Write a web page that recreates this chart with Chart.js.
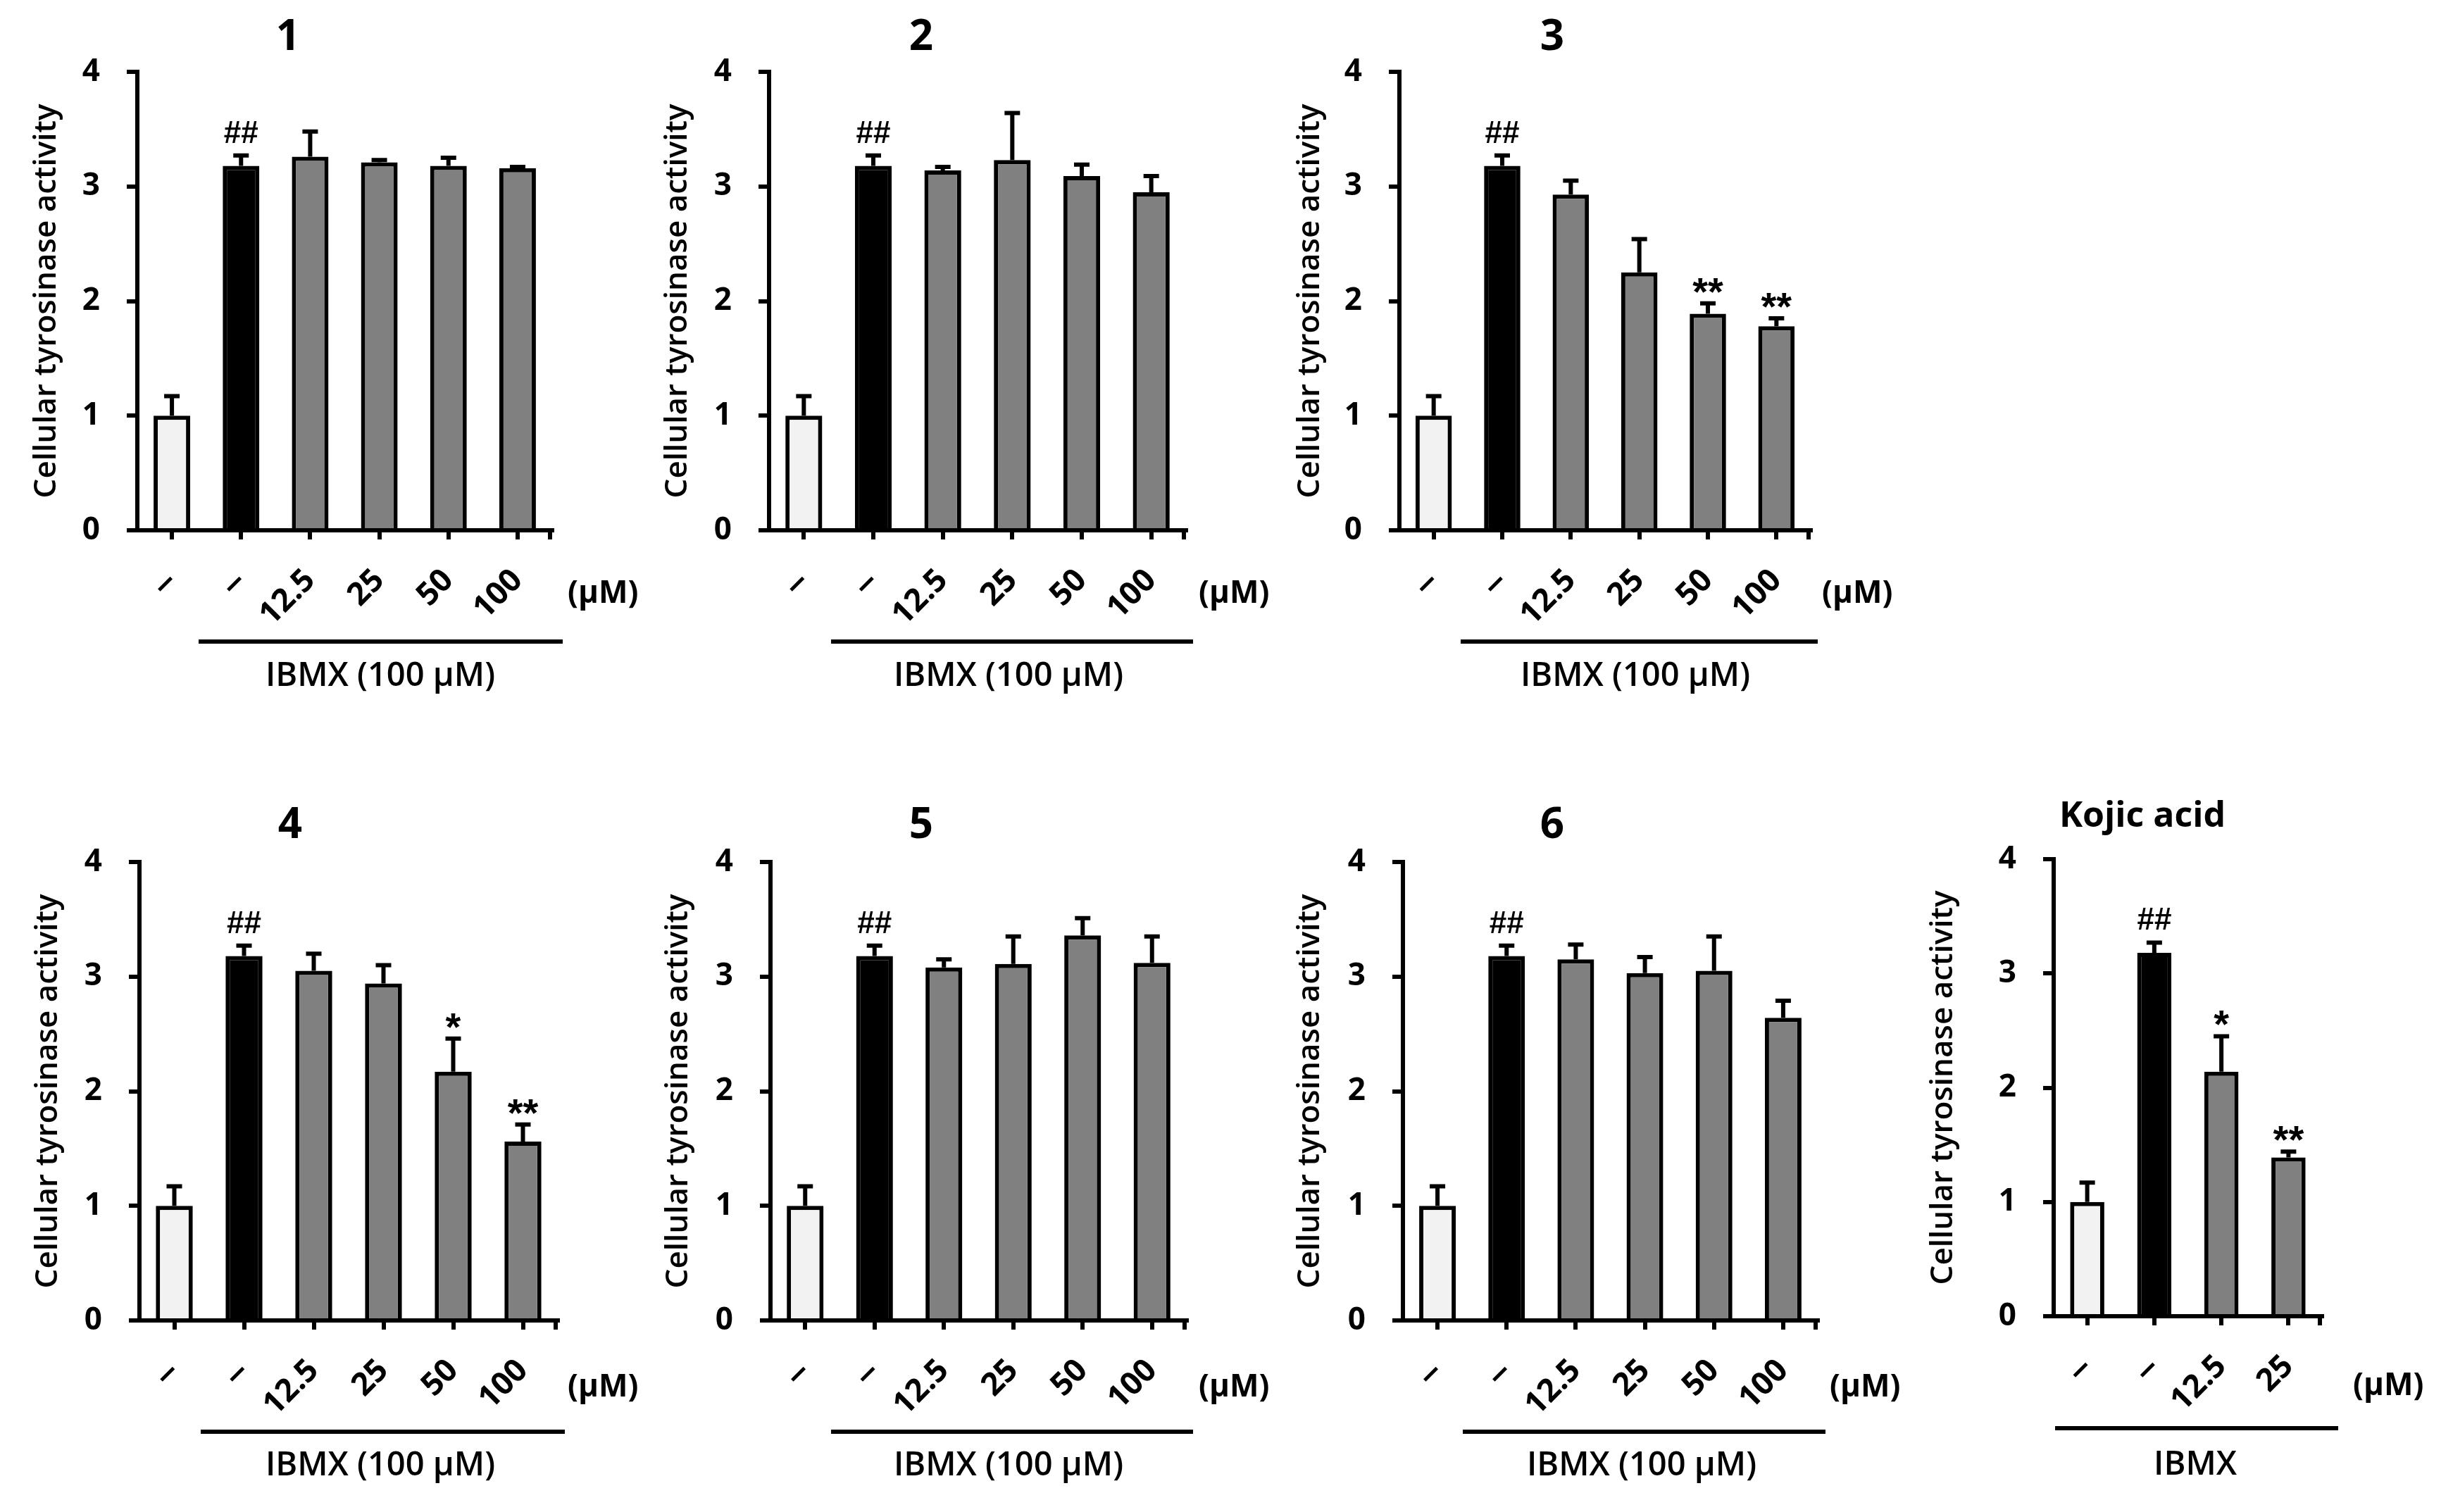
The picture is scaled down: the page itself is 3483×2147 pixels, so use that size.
<!DOCTYPE html>
<html><head><meta charset="utf-8">
<script src="https://cdn.jsdelivr.net/npm/chart.js@4.4.1/dist/chart.umd.min.js"></script>
<style>
html,body{margin:0;padding:0;background:#fff;}
#wrap{position:relative;width:3483px;height:2147px;overflow:hidden;background:#fff;}
canvas{position:absolute;}
</style></head><body><div id="wrap"></div>
<script>
// ---------- data ----------
const doseLabels = ['–', '–', '12.5', '25', '50', '100'];
const kojicLabels = ['–', '–', '12.5', '25'];
const titles = ['1', '2', '3', '4', '5', '6', 'Kojic acid'];
const yTitle = 'Cellular tyrosinase activity';
const yTicks = [0, 1, 2, 3, 4];
const unitLabel = '(µM)';
const groupLabels = ['IBMX (100 µM)', 'IBMX (100 µM)', 'IBMX (100 µM)', 'IBMX (100 µM)', 'IBMX (100 µM)', 'IBMX (100 µM)', 'IBMX'];

const means1 = [1.00, 3.18, 3.26, 3.21, 3.18, 3.16];
const errs1  = [0.17, 0.09, 0.22, 0.02, 0.07, 0.01];
const marks1 = ['', '##', '', '', '', ''];

const means2 = [1.00, 3.18, 3.14, 3.23, 3.09, 2.95];
const errs2  = [0.17, 0.09, 0.03, 0.41, 0.10, 0.14];
const marks2 = ['', '##', '', '', '', ''];

const means3 = [1.00, 3.18, 2.93, 2.25, 1.89, 1.78];
const errs3  = [0.17, 0.09, 0.12, 0.29, 0.09, 0.07];
const marks3 = ['', '##', '', '', '**', '**'];

const means4 = [1.00, 3.18, 3.05, 2.94, 2.17, 1.56];
const errs4  = [0.17, 0.09, 0.15, 0.16, 0.29, 0.15];
const marks4 = ['', '##', '', '', '*', '**'];

const means5 = [1.00, 3.18, 3.08, 3.11, 3.36, 3.12];
const errs5  = [0.17, 0.09, 0.07, 0.24, 0.15, 0.23];
const marks5 = ['', '##', '', '', '', ''];

const means6 = [1.00, 3.18, 3.15, 3.03, 3.05, 2.64];
const errs6  = [0.17, 0.09, 0.13, 0.14, 0.30, 0.15];
const marks6 = ['', '##', '', '', '', ''];

const meansK = [1.00, 3.18, 2.14, 1.39];
const errsK  = [0.17, 0.09, 0.31, 0.05];
const marksK = ['', '##', '*', '**'];

// ---------- layout (page pixels) ----------
const L = [
 {ax:195,  rx:784,  ty:102,  by:753,  tX:409,  tY:54,   yTX:66,   uX:806,  uY:843,  br:[282,799,911],   gX:540,  gY:961,  bp:0.53, tf:60},
 {ax:1092, rx:1684, ty:102,  by:753,  tX:1308, tY:54,   yTX:962,  uX:1702, uY:843,  br:[1180,1694,911], gX:1432, gY:961,  bp:0.53, tf:60},
 {ax:1987, rx:2571, ty:102,  by:753,  tX:2204, tY:54,   yTX:1860, uX:2587, uY:843,  br:[2074,2581,911], gX:2322, gY:961,  bp:0.53, tf:60},
 {ax:198,  rx:792,  ty:1224, by:1875, tX:412,  tY:1173, yTX:68,   uX:806,  uY:1970, br:[285,802,2033],  gX:540,  gY:2082, bp:0.53, tf:60},
 {ax:1094, rx:1685, ty:1224, by:1875, tX:1308, tY:1173, yTX:963,  uX:1702, uY:1970, br:[1180,1694,2033], gX:1432, gY:2082, bp:0.53, tf:60},
 {ax:1992, rx:2581, ty:1224, by:1875, tX:2204, tY:1173, yTX:1860, uX:2598, uY:1970, br:[2077,2592,2033], gX:2331, gY:2082, bp:0.53, tf:60},
 {ax:2916, rx:3297, ty:1220, by:1869, tX:3042, tY:1160, yTX:2759, uX:3341, uY:1968, br:[2918,3320,2028], gX:3117, gY:2081, bp:0.51, tf:50}
];

const FONT = "'Open Sans', 'Noto Sans', sans-serif";
const LW = 6;
const series = [
  {labels: doseLabels, means: means1, errs: errs1, marks: marks1},
  {labels: doseLabels, means: means2, errs: errs2, marks: marks2},
  {labels: doseLabels, means: means3, errs: errs3, marks: marks3},
  {labels: doseLabels, means: means4, errs: errs4, marks: marks4},
  {labels: doseLabels, means: means5, errs: errs5, marks: marks5},
  {labels: doseLabels, means: means6, errs: errs6, marks: marks6},
  {labels: kojicLabels, means: meansK, errs: errsK, marks: marksK}
];

const wrap = document.getElementById('wrap');
const Y_TITLE_SIZE = 44;

series.forEach((c, i) => {
  const g = L[i];
  const LEFT = 190, TOP = 100;
  const cl = g.ax - LEFT, ct = g.ty - TOP;
  const cw = Math.min(g.rx - cl + 240, 3483 - cl);
  const ch = 1020;
  const plotW = g.rx - g.ax, plotH = g.by - g.ty;
  const cv = document.createElement('canvas');
  cv.width = cw; cv.height = ch;
  cv.style.left = cl + 'px'; cv.style.top = ct + 'px';
  cv.style.width = cw + 'px'; cv.style.height = ch + 'px';
  wrap.appendChild(cv);
  const colors = c.labels.map((_, k) => k === 0 ? '#f2f2f2' : (k === 1 ? '#000000' : '#808080'));
  const titlePad = LEFT - (g.ax - g.yTX) - Y_TITLE_SIZE * 1.2 / 2;

  const extras = {
    id: 'extras' + i,
    afterDatasetsDraw(chart) {
      const ctx = chart.ctx, ys = chart.scales.y;
      const meta = chart.getDatasetMeta(0);
      ctx.save();
      ctx.strokeStyle = '#000'; ctx.fillStyle = '#000'; ctx.lineWidth = LW; ctx.lineCap = 'butt';
      c.means.forEach((m, k) => {
        const x = meta.data[k].x;
        const y0 = ys.getPixelForValue(m), y1 = ys.getPixelForValue(m + c.errs[k]);
        ctx.beginPath();
        ctx.moveTo(x, y0); ctx.lineTo(x, y1);
        ctx.moveTo(x - 11, y1); ctx.lineTo(x + 11, y1);
        ctx.stroke();
        const mk = c.marks[k];
        if (mk) {
          const isHash = mk[0] === '#';
          ctx.font = isHash ? "bold 44px 'Liberation Sans', sans-serif" : "bold 56px 'Liberation Sans', sans-serif";
          ctx.textAlign = 'center'; ctx.textBaseline = 'alphabetic';
          const mt = ctx.measureText(mk);
          const gap = isHash ? 15 : 12;
          ctx.fillText(mk, x, y1 - LW / 2 - gap - mt.actualBoundingBoxDescent);
        }
      });
      ctx.restore();
    },
    afterDraw(chart) {
      const ctx = chart.ctx, a = chart.chartArea;
      ctx.save();
      ctx.fillStyle = '#000'; ctx.strokeStyle = '#000'; ctx.lineWidth = LW;
      // right-end tick of x axis
      ctx.beginPath(); ctx.moveTo(a.right - LW / 2, a.bottom); ctx.lineTo(a.right - LW / 2, a.bottom + 13); ctx.stroke();
      // panel title
      ctx.font = 'bold ' + g.tf + 'px ' + FONT;
      ctx.textAlign = 'center'; ctx.textBaseline = 'middle';
      ctx.fillText(titles[i], g.tX - cl, g.tY - ct);
      // unit label
      ctx.font = 'bold 44px ' + FONT;
      ctx.textAlign = 'left';
      ctx.fillText(unitLabel, g.uX - cl, g.uY - ct);
      // bracket line
      ctx.beginPath(); ctx.moveTo(g.br[0] - cl, g.br[2] - ct); ctx.lineTo(g.br[1] - cl, g.br[2] - ct); ctx.stroke();
      // group label
      ctx.font = '600 47px ' + FONT;
      ctx.textAlign = 'center';
      ctx.fillText(groupLabels[i], g.gX - cl, g.gY - ct);
      ctx.restore();
    }
  };

  new Chart(cv, {
    type: 'bar',
    data: {
      labels: c.labels,
      datasets: [{
        data: c.means, backgroundColor: colors, borderColor: '#000', borderWidth: LW,
        barPercentage: g.bp, categoryPercentage: 1
      }]
    },
    options: {
      responsive: false, animation: false, devicePixelRatio: 1,
      layout: {padding: {left: 0, top: TOP, right: cw - LEFT - plotW, bottom: 0}},
      plugins: {legend: {display: false}, tooltip: {enabled: false}, title: {display: false}},
      scales: {
        x: {
          offset: true,
          grid: {offset: false, drawOnChartArea: false, drawTicks: true, tickLength: 13, color: '#000', lineWidth: LW},
          border: {display: true, color: '#000', width: LW},
          ticks: {autoSkip: false, maxRotation: 45, minRotation: 45, color: '#000', padding: 32,
                  font: (ctx) => (ctx.index < 2
                    ? {family: "'Liberation Sans', sans-serif", size: 50, weight: 'bold'}
                    : {family: FONT, size: 45, weight: 'bold'})},
          afterFit: s => { s.height = ch - TOP - plotH; }
        },
        y: {
          min: 0, max: 4,
          afterBuildTicks: s => { s.ticks = yTicks.map(v => ({value: v})); },
          grid: {drawOnChartArea: false, drawTicks: true, tickLength: 15, color: '#000', lineWidth: LW},
          border: {display: true, color: '#000', width: LW},
          ticks: {color: '#000', padding: 38, font: {family: FONT, size: 44, weight: 'bold'}},
          title: {display: true, text: yTitle, color: '#000',
                  font: {family: FONT, size: Y_TITLE_SIZE, weight: '600'},
                  padding: {top: titlePad, bottom: 0}},
          afterFit: s => { s.width = LEFT; }
        }
      }
    },
    plugins: [extras]
  });
});
</script></body></html>
